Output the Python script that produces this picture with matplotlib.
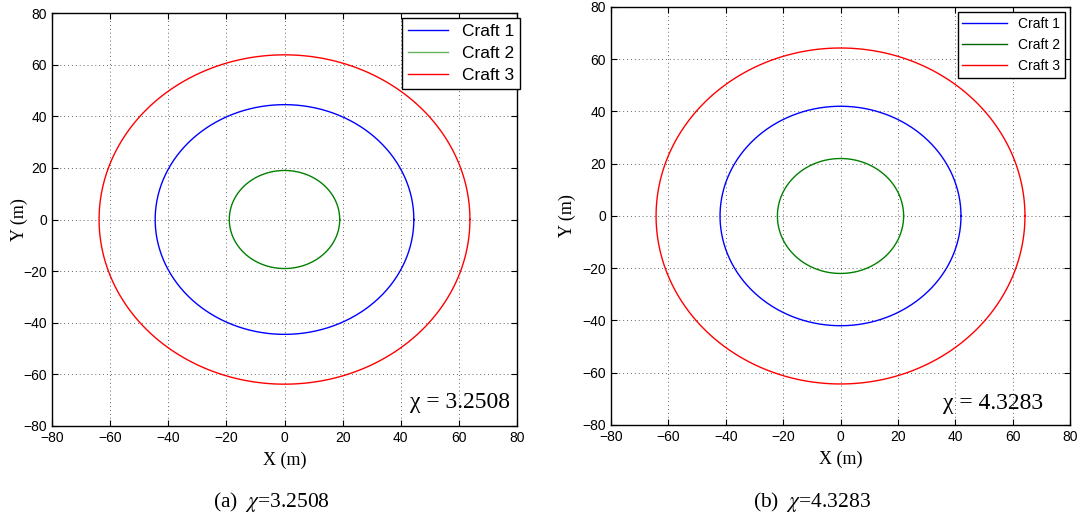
import numpy as np
import matplotlib.pyplot as plt

plt.rcParams['mathtext.fontset'] = 'stix'

# radii of the three craft orbits (m)
crafts = ['Craft 1', 'Craft 2', 'Craft 3']
radius_a = [44.5, 19.0, 63.8]
radius_b = [42.0, 22.0, 64.3]
chi_a = '3.2508'
chi_b = '4.3283'
ticks = [-80, -60, -40, -20, 0, 20, 40, 60, 80]

cores = ['#0000ff', '#008000', '#ff0000']

fig = plt.figure(figsize=(10.83, 5.25), dpi=100)

ax_a = fig.add_axes([0.048, 0.1886, 0.4294, 0.7866])
ax_b = fig.add_axes([0.5642, 0.1905, 0.4238, 0.7962])

theta = np.linspace(0, 2 * np.pi, 400)

def painel(ax, raios, chi, chi_pos, leg_size, handle_len, leg_color2, anchor, spacing, ylab_x):
    for nome, r, cor in zip(crafts, raios, cores):
        ax.plot(r * np.cos(theta), r * np.sin(theta), color=cor, lw=1.0, label=nome)
    ax.set_xlim(-80, 80)
    ax.set_ylim(-80, 80)
    ax.set_xticks(ticks)
    ax.set_yticks(ticks)
    ax.tick_params(direction='in', length=4, width=0.8, labelsize=10, top=True, right=True)
    for lab in ax.get_xticklabels() + ax.get_yticklabels():
        lab.set_family('Liberation Sans')
    ax.grid(True, linestyle=(0, (1, 3)), color='#666666', linewidth=0.7)
    for s in ax.spines.values():
        s.set_linewidth(1.0)
    ax.set_xlabel('X (m)', family='Liberation Serif', fontsize=13, labelpad=5)
    ax.set_ylabel('Y (m)', family='Liberation Serif', fontsize=13)
    ax.yaxis.set_label_coords(ylab_x, 0.5)
    ax.text(chi_pos[0], chi_pos[1], '\u03c7 = ' + chi, transform=ax.transAxes, ha='right', va='center',
            family='Liberation Serif', fontsize=17)
    leg = ax.legend(loc='upper right', bbox_to_anchor=anchor, handlelength=handle_len,
                    fancybox=False, framealpha=1, edgecolor='black', labelspacing=spacing,
                    borderaxespad=0, borderpad=0.35,
                    prop={'family': 'Liberation Sans', 'size': leg_size})
    leg.get_frame().set_linewidth(1.0)
    leg.get_lines()[1].set_color(leg_color2)

painel(ax_a, radius_a, chi_a, (0.985, 0.058), 12.5, 2.3, '#66b366', (1.007, 0.988), 0.4, -0.052)
painel(ax_b, radius_b, chi_b, (0.941, 0.051), 10, 3.2, '#006400', (0.989, 0.988), 0.5, -0.076)

fig.text(0.2505, 0.044, r'(a)  $\chi$=' + chi_a, ha='center', va='center',
         family='Liberation Serif', fontsize=15.5)
fig.text(0.750, 0.044, r'(b)  $\chi$=' + chi_b, ha='center', va='center',
         family='Liberation Serif', fontsize=15.5)

fig.savefig('out.png', dpi=100)
